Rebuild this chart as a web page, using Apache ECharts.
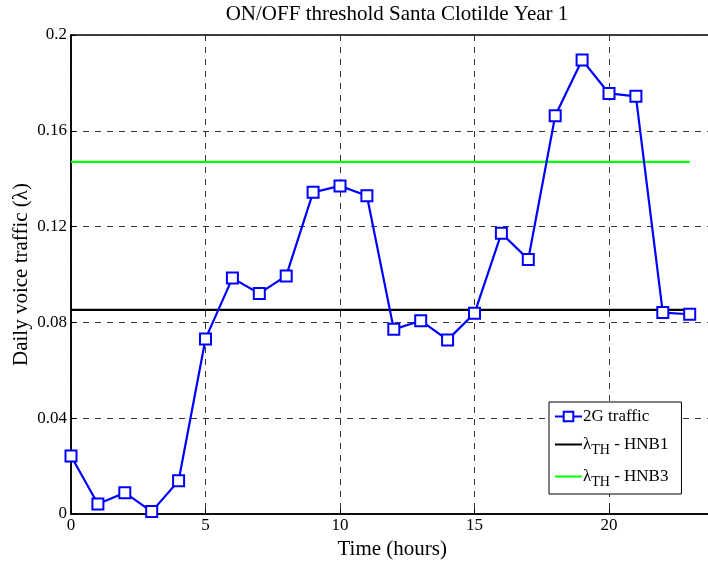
<!DOCTYPE html>
<html><head><meta charset="utf-8">
<script src="https://cdn.jsdelivr.net/npm/echarts@6/dist/echarts.min.js"></script>
<style>html,body{margin:0;padding:0;background:#fff}#c{width:708px;height:561px}</style>
</head><body><div id="c"></div>
<script>
const hours = [0,1,2,3,4,5,6,7,8,9,10,11,12,13,14,15,16,17,18,19,20,21,22,23];
const traffic2G = [0.0242,0.0042,0.0089,0.0010,0.0139,0.0731,0.0985,0.0921,0.0994,0.1343,0.1370,0.1329,
                   0.0771,0.0807,0.0727,0.0838,0.1172,0.1063,0.1663,0.1896,0.1756,0.1744,0.0841,0.0834];
const thresholdHNB1 = 0.0852;
const thresholdHNB3 = 0.147;
const yTicks = [0, 0.04, 0.08, 0.12, 0.16, 0.2];
const xTicks = [0, 5, 10, 15, 20];

const font = 'Liberation Serif';
const chart = echarts.init(document.getElementById('c'), null, {renderer:'canvas'});
const gridDash = {color:'#333', type:[6,6], width:1};
chart.setOption({
  animation:false,
  backgroundColor:'#fff',
  title:{text:'ON/OFF threshold Santa Clotilde Year 1', left:392, top:-1, textAlign:'center',
    textStyle:{fontFamily:font, fontWeight:'normal', fontSize:21, color:'#000'}},
  grid:{left:71, top:35, width:672.5, height:479, show:true, borderColor:'#000', borderWidth:1.5,
    backgroundColor:'transparent', containLabel:false, outerBoundsMode:'none'},
  xAxis:{type:'value', min:0, max:25, interval:5,
    name:'Time (hours)', nameLocation:'middle', nameGap:25, nameMoveOverlap:false,
    nameTextStyle:{fontFamily:font, fontSize:21, color:'#000', padding:[0,30,0,0]},
    axisLine:{show:true, lineStyle:{color:'#000', width:1.5}},
    axisTick:{show:true, inside:true, length:5, lineStyle:{color:'#000'}},
    axisLabel:{fontFamily:font, fontSize:17, color:'#000', margin:3,
      formatter:v=> xTicks.includes(v) ? String(v) : ''},
    splitLine:{show:true, lineStyle:gridDash}},
  yAxis:{type:'value', min:0, max:0.2, interval:0.04,
    name:'Daily voice traffic (λ)', nameLocation:'middle', nameGap:39, nameMoveOverlap:false,
    nameTextStyle:{fontFamily:font, fontSize:21, color:'#000'},
    axisLine:{show:true, lineStyle:{color:'#000', width:1.5}},
    axisTick:{show:true, inside:true, length:5, lineStyle:{color:'#000'}},
    axisLabel:{fontFamily:font, fontSize:17, color:'#000', margin:4,
      formatter:v=>{ const t = yTicks.find(k=>Math.abs(k-v)<1e-9); return t===undefined?'':String(t);}},
    splitLine:{show:true, lineStyle:gridDash}},
  legend:{orient:'vertical', left:549, top:402, padding:[6,13,5,5], itemGap:11,
    itemWidth:27, itemHeight:12,
    borderColor:'#000', borderWidth:1, backgroundColor:'#fff',
    data:[{name:'2G traffic'},
          {name:'HNB1', itemStyle:{opacity:0}},
          {name:'HNB3', itemStyle:{opacity:0}}],
    formatter:n=> n==='2G traffic' ? '2G traffic' : '{l|λ}{s|TH}{l| - '+n+'}',
    textStyle:{fontFamily:font, fontSize:17, color:'#000', padding:[0,0,0,-4],
      rich:{l:{fontFamily:font, fontSize:17, color:'#000'},
            s:{fontFamily:font, fontSize:14, color:'#000', padding:[11,0,0,0]}}}},
  series:[
    {name:'2G traffic', type:'line', data:hours.map((h,i)=>[h,traffic2G[i]]),
      symbol:'rect', symbolSize:11, showAllSymbol:true,
      lineStyle:{color:'#0000ff', width:2.2},
      itemStyle:{color:'#fff', borderColor:'#0000ff', borderWidth:2}, z:5},
    {name:'HNB1', type:'line', data:[[hours[0],thresholdHNB1],[hours[hours.length-1],thresholdHNB1]],
      symbol:'none', lineStyle:{color:'#000', width:2.2}, itemStyle:{color:'#000'}, z:4},
    {name:'HNB3', type:'line', data:[[hours[0],thresholdHNB3],[hours[hours.length-1],thresholdHNB3]],
      symbol:'none', lineStyle:{color:'#00ff00', width:2.2}, itemStyle:{color:'#00ff00'}, z:4}
  ]
});
</script></body></html>
